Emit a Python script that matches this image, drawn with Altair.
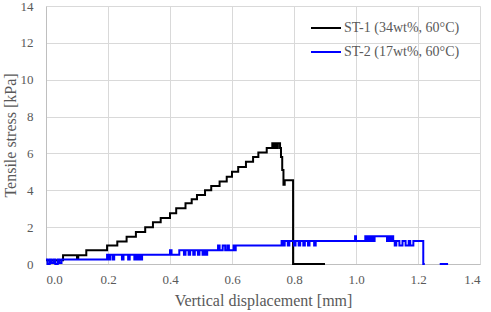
import altair as alt
import pandas as pd

# ST-1 (34wt%, 60°C): step start x [mm], stress [kPa]
st1_x = [0.0, 0.055, 0.100, 0.104, 0.130, 0.197, 0.230, 0.260, 0.290, 0.320,
         0.345, 0.370, 0.400, 0.420, 0.450, 0.470, 0.487, 0.513, 0.533, 0.560,
         0.583, 0.600, 0.620, 0.645, 0.668, 0.685, 0.712, 0.730, 0.735, 0.740,
         0.745, 0.748, 0.755, 0.758, 0.762, 0.766, 0.770, 0.797, 0.900]
st1_y = [0.20, 0.48, 0.30, 0.48, 0.75, 1.00, 1.22, 1.48, 1.74, 2.00,
         2.27, 2.50, 2.76, 3.02, 3.30, 3.52, 3.75, 4.00, 4.23, 4.48,
         4.74, 5.00, 5.27, 5.55, 5.80, 6.05, 6.30, 6.55, 6.30, 6.55,
         6.30, 6.55, 6.30, 5.80, 5.10, 4.30, 4.55, 0.00, 0.00]

# ST-2 (17wt%, 60°C): step start x [mm], stress [kPa]
st2_x = [0.0, 0.005, 0.012, 0.018, 0.025, 0.030, 0.038, 0.043, 0.050,
         0.197, 0.203, 0.207, 0.215, 0.220, 0.245, 0.250, 0.265, 0.270,
         0.285, 0.290, 0.295, 0.300, 0.305, 0.310,
         0.400, 0.405, 0.430, 0.445, 0.450, 0.460, 0.465, 0.475, 0.480,
         0.490, 0.495, 0.505, 0.510, 0.515, 0.520,
         0.555, 0.560, 0.570, 0.578, 0.585, 0.590, 0.605, 0.608, 0.612,
         0.760, 0.765, 0.770, 0.780, 0.785, 0.800, 0.805, 0.815, 0.820,
         0.830, 0.835, 0.845, 0.850, 0.865, 0.870,
         0.997, 1.000, 1.030, 1.035, 1.040, 1.045, 1.050, 1.055, 1.060,
         1.100, 1.105, 1.110, 1.115, 1.120, 1.125, 1.130, 1.140, 1.150,
         1.160, 1.170, 1.175, 1.185, 1.217, 1.222]
st2_y = [0.25, 0.00, 0.25, 0.05, 0.25, 0.00, 0.25, 0.05, 0.25,
         0.50, 0.25, 0.50, 0.25, 0.50, 0.25, 0.50, 0.25, 0.50,
         0.25, 0.50, 0.25, 0.50, 0.25, 0.50,
         0.75, 0.50, 0.75, 0.50, 0.75, 0.50, 0.75, 0.50, 0.75,
         0.50, 0.75, 0.50, 0.75, 0.50, 0.75,
         1.00, 0.75, 1.00, 0.75, 1.00, 0.75, 1.00, 0.75, 1.00,
         1.25, 1.00, 1.25, 1.00, 1.25, 1.00, 1.25, 1.00, 1.25,
         1.00, 1.25, 1.00, 1.25, 1.00, 1.25,
         1.50, 1.25, 1.50, 1.25, 1.50, 1.25, 1.50, 1.25, 1.50,
         1.25, 1.50, 1.25, 1.50, 1.25, 1.00, 1.25, 1.00, 1.25,
         1.00, 1.25, 1.00, 1.25, 0.00, 0.00]
st2_tail_x = [1.270, 1.297]
st2_tail_y = [0.00, 0.00]

series_names = ["ST-1 (34wt%, 60°C)", "ST-2 (17wt%, 60°C)"]
series_colors = ["#000000", "#0000ff"]
x_ticks = [0.0, 0.2, 0.4, 0.6, 0.8, 1.0, 1.2, 1.4]
y_ticks = [0, 2, 4, 6, 8, 10, 12, 14]

rows = []
for x, y in zip(st1_x, st1_y):
    rows.append({"x": x, "y": y, "series": series_names[0], "seg": "a"})
for x, y in zip(st2_x, st2_y):
    rows.append({"x": x, "y": y, "series": series_names[1], "seg": "b"})
for x, y in zip(st2_tail_x, st2_tail_y):
    rows.append({"x": x, "y": y, "series": series_names[1], "seg": "c"})
df = pd.DataFrame(rows)

FONT = "Liberation Serif"
GREY = "#595959"

chart = alt.Chart(df).mark_line(
    interpolate="step-after", strokeWidth=2
).encode(
    x=alt.X("x:Q", scale=alt.Scale(domain=[0, 1.4], nice=False),
            axis=alt.Axis(values=x_ticks, format=".1f", title="Vertical displacement [mm]",
                          labelFont=FONT, titleFont=FONT, labelFontSize=13,
                          labelPadding=9, titlePadding=6)),
    y=alt.Y("y:Q", scale=alt.Scale(domain=[0, 14], nice=False),
            axis=alt.Axis(values=y_ticks, format="d", title="Tensile stress [kPa]",
                          labelFont=FONT, titleFont=FONT, labelFontSize=13,
                          labelPadding=13, titlePadding=2)),
    color=alt.Color("series:N",
                    scale=alt.Scale(domain=series_names, range=series_colors),
                    legend=alt.Legend(title=None, orient="none", legendX=264, legendY=6,
                                      symbolType="stroke", symbolSize=900,
                                      symbolStrokeWidth=2, rowPadding=1,
                                      labelOffset=2)),
    detail="seg:N",
    order="x:Q",
).properties(
    width=434, height=258,
    autosize=alt.AutoSizeParams(type="none"),
    padding={"left": 46, "top": 6, "right": 11, "bottom": 48},
).configure_view(
    strokeOpacity=0
).configure_axis(
    labelFont=FONT, titleFont=FONT, labelColor=GREY, titleColor=GREY,
    labelFontSize=13, titleFontSize=16, titleFontWeight="normal",
    gridColor="#d9d9d9", gridWidth=1, domainColor="#bfbfbf", domainWidth=1,
    tickSize=0,
).configure_legend(
    labelFont=FONT, labelFontSize=14, labelColor=GREY, labelLimit=300,
)

chart.save("out.html", embed_options={"renderer": "svg", "actions": False})
